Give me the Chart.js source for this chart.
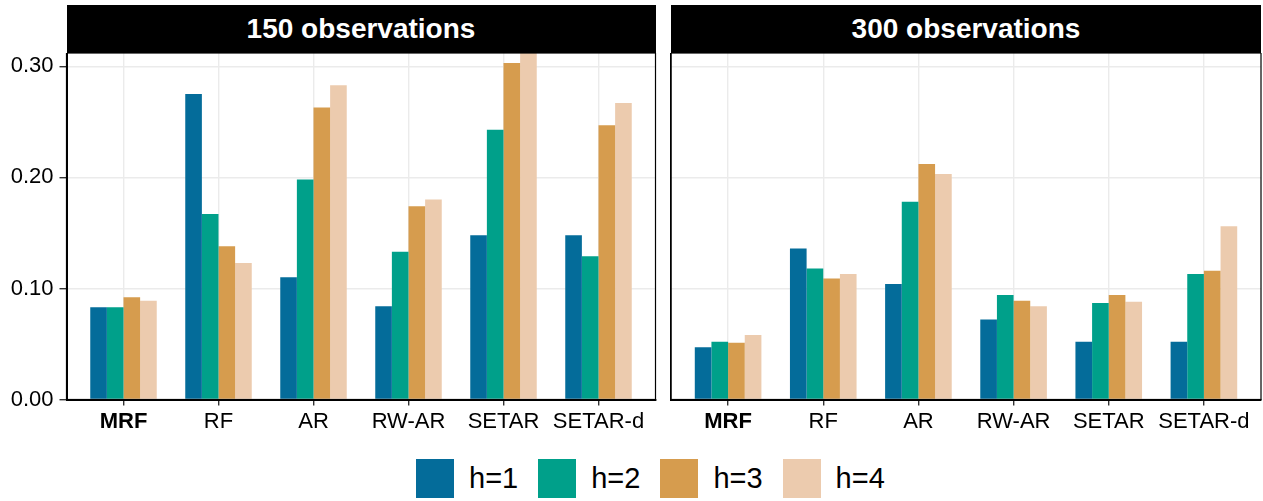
<!DOCTYPE html>
<html>
<head>
<meta charset="utf-8">
<script src="https://cdn.jsdelivr.net/npm/chart.js@4/dist/chart.umd.min.js"></script>
<style>
  html, body { margin: 0; padding: 0; background: #fff; overflow: hidden; }
  body { width: 1263px; height: 501px; position: relative; font-family: "Liberation Sans", Arial, sans-serif; }
  .strip {
    position: absolute; top: 5px; height: 48px; background: #000; color: #fff;
    font-weight: bold; font-size: 28px; display: flex; align-items: center; justify-content: center;
  }
  .panel { position: absolute; top: 53px; height: 387px; }
  #legend { position: absolute; left: 416px; top: 459px; height: 39px; display: flex; align-items: center; }
  .item { display: flex; align-items: center; margin-right: 20px; }
  .box { width: 38px; height: 39px; margin-right: 15px; }
  .lbl { font-size: 29px; color: #000; }
</style>
</head>
<body>
<div class="strip" id="strip1" style="left:66.5px; width:589px;"></div>
<div class="strip" id="strip2" style="left:671px; width:590px;"></div>
<div class="panel" style="left:0; width:660px;"><canvas id="left"></canvas></div>
<div class="panel" style="left:663px; width:600px;"><canvas id="right"></canvas></div>
<div id="legend"></div>

<script>
// Modelos e horizontes
const categories = ["MRF", "RF", "AR", "RW-AR", "SETAR", "SETAR-d"];
const horizons = ["h=1", "h=2", "h=3", "h=4"];
const colors = ["#046C9A", "#00A08A", "#D69C4E", "#ECCBAE"];
const panelTitles = ["150 observations", "300 observations"];
const yTicks = [0, 0.1, 0.2, 0.3];

// 150 observações
const obs150_h1 = [0.083, 0.275, 0.110, 0.084, 0.148, 0.148];
const obs150_h2 = [0.083, 0.167, 0.198, 0.133, 0.243, 0.129];
const obs150_h3 = [0.092, 0.138, 0.263, 0.174, 0.303, 0.247];
const obs150_h4 = [0.089, 0.123, 0.283, 0.180, 0.325, 0.267];

// 300 observações
const obs300_h1 = [0.047, 0.136, 0.104, 0.072, 0.052, 0.052];
const obs300_h2 = [0.052, 0.118, 0.178, 0.094, 0.087, 0.113];
const obs300_h3 = [0.051, 0.109, 0.212, 0.089, 0.094, 0.116];
const obs300_h4 = [0.058, 0.113, 0.203, 0.084, 0.088, 0.156];

const FONT = "'Liberation Sans', Arial, sans-serif";
const GRID = "#EBEBEB";

// Moldura do painel (borda fina preta)
const panelBorder = {
  id: "panel-border",
  afterDatasetsDraw(chart) {
    const { ctx, chartArea } = chart;
    ctx.save();
    ctx.strokeStyle = "#000";
    ctx.lineWidth = 1.2;
    ctx.strokeRect(chartArea.left, chartArea.top, chartArea.right - chartArea.left, chartArea.bottom - chartArea.top);
    ctx.restore();
  },
};

// Zera o espaço extra que o Chart.js reserva para rótulos nas pontas
function noPadding(scale) {
  scale.paddingTop = 0;
  scale.paddingBottom = 0;
  scale.paddingLeft = 0;
  scale.paddingRight = 0;
}

function drawPanel(canvas, series, showY, yWidth, padRight) {
  const datasets = series.map((values, k) => ({
    label: horizons[k],
    data: values.map((v, i) => ({ x: i + 1, y: v })),
    backgroundColor: colors[k],
    borderWidth: 0,
    categoryPercentage: 0.7,
    barPercentage: 1.0,
  }));

  return new Chart(canvas, {
    type: "bar",
    data: { datasets },
    options: {
      responsive: true,
      maintainAspectRatio: false,
      animation: false,
      layout: { padding: { top: 0, right: padRight, bottom: 0, left: 0 } },
      plugins: {
        legend: { display: false },
        tooltip: { enabled: false },
      },
      scales: {
        x: {
          type: "linear",
          min: 0.4,
          max: 6.6,
          offset: false,
          afterBuildTicks: (scale) => {
            scale.ticks = categories.map((c, i) => ({ value: i + 1 }));
          },
          afterFit: (scale) => {
            scale.height = 40.5;
            noPadding(scale);
          },
          grid: { offset: false, color: GRID, lineWidth: 1.4, tickColor: "#333", tickLength: 6, tickWidth: 1.4 },
          border: { color: "#000", width: 2 },
          ticks: {
            padding: 3,
            color: "#000",
            autoSkip: false,
            maxRotation: 0,
            font: (ctx) => ({
              family: FONT,
              size: 22,
              weight: ctx.tick && ctx.tick.value === 1 ? "bold" : "normal",
            }),
            callback: (value) => categories[value - 1],
          },
        },
        y: {
          min: 0,
          max: 0.312,
          afterBuildTicks: (scale) => {
            scale.ticks = yTicks.map((v) => ({ value: v }));
          },
          afterFit: (scale) => {
            scale.width = yWidth;
            noPadding(scale);
          },
          grid: { color: GRID, lineWidth: 1.4, tickColor: "#333", tickLength: showY ? 7 : 0, tickWidth: 1.4, drawTicks: showY },
          border: { color: "#000", width: showY ? 2 : 1.4 },
          ticks: {
            display: showY,
            padding: 6,
            color: "#000",
            font: { family: FONT, size: 22 },
            callback: (value) => value.toFixed(2),
          },
        },
      },
    },
    plugins: [panelBorder],
  });
}

document.getElementById("strip1").textContent = panelTitles[0];
document.getElementById("strip2").textContent = panelTitles[1];

drawPanel(document.getElementById("left"), [obs150_h1, obs150_h2, obs150_h3, obs150_h4], true, 66.5, 4.5);
drawPanel(document.getElementById("right"), [obs300_h1, obs300_h2, obs300_h3, obs300_h4], false, 8, 2);

// Legenda em HTML
const legend = document.getElementById("legend");
horizons.forEach((h, k) => {
  const item = document.createElement("div");
  item.className = "item";
  item.innerHTML = `<div class="box" style="background:${colors[k]}"></div><span class="lbl">${h}</span>`;
  legend.appendChild(item);
});
</script>
</body>
</html>
